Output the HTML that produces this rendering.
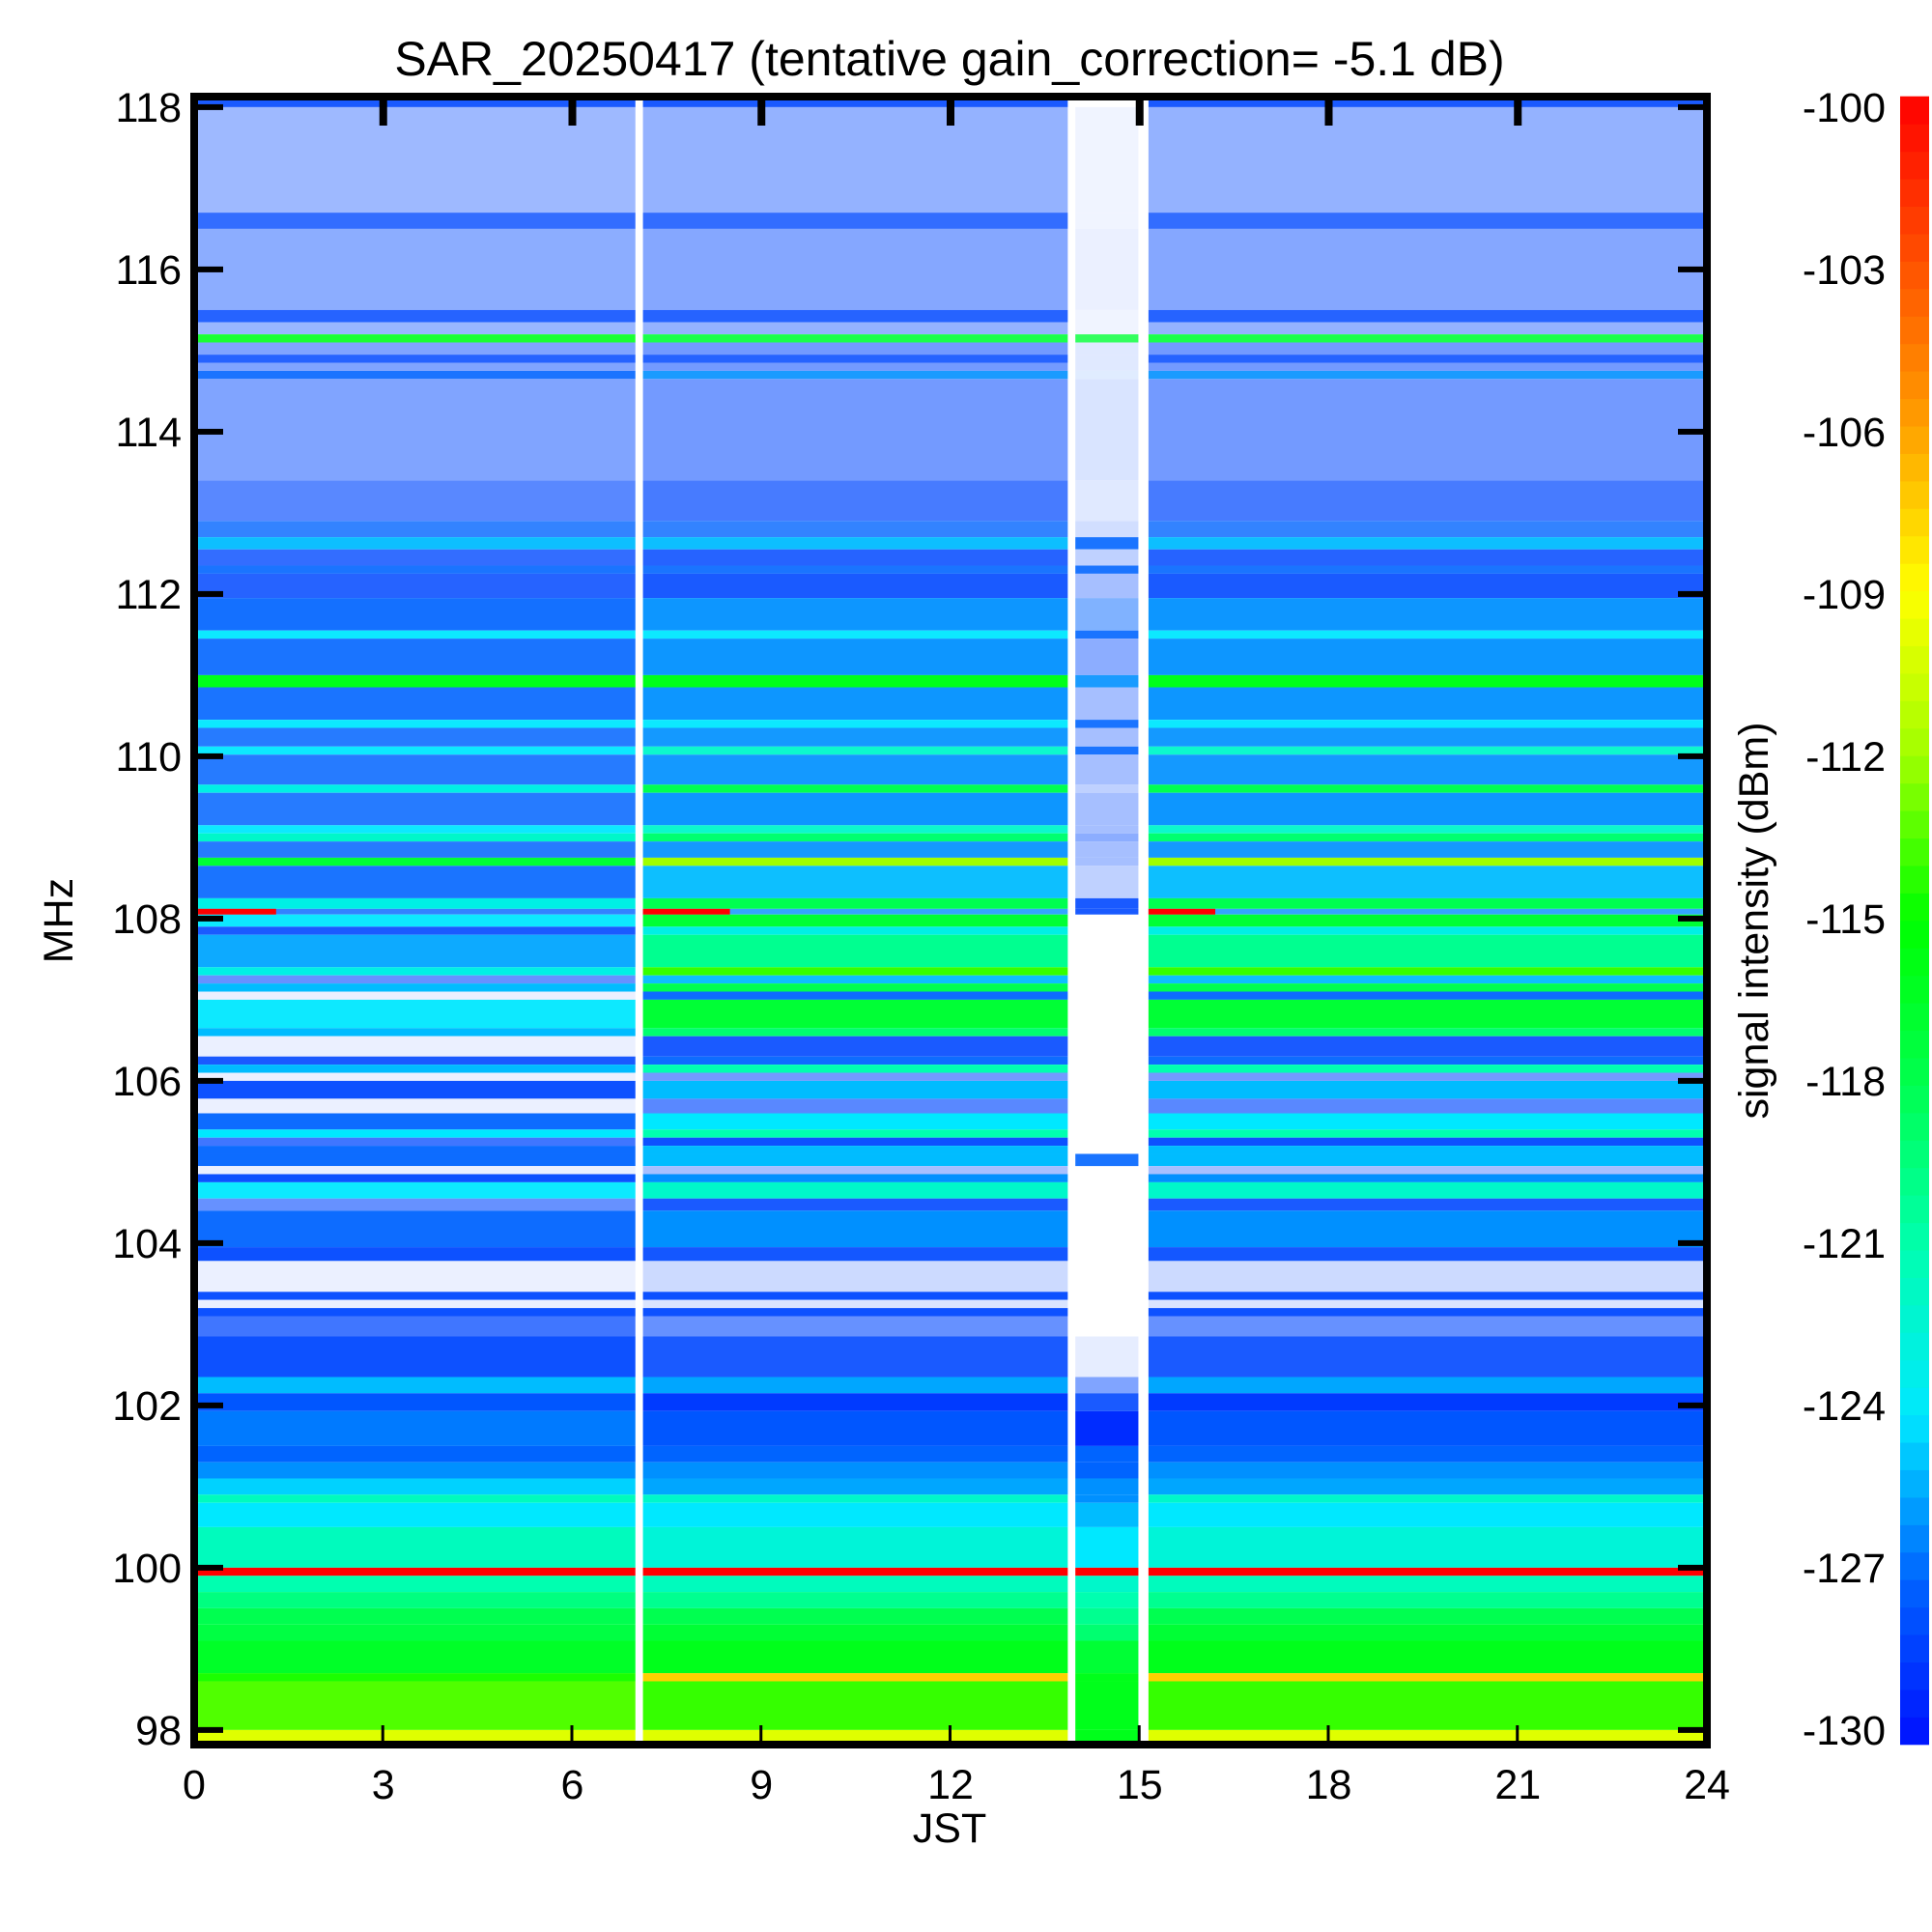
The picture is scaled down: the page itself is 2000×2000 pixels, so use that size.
<!DOCTYPE html>
<html><head><meta charset="utf-8"><style>
html,body{margin:0;padding:0;background:#fff;}
svg{display:block;}
text{font-family:"Liberation Sans",Arial,sans-serif;fill:#000;}
</style></head><body>
<svg id="chart" width="2000" height="2000" viewBox="0 0 2000 2000" xmlns="http://www.w3.org/2000/svg">
<rect x="0" y="0" width="2000" height="2000" fill="#fff"/>
<g id="cells"></g>
<g id="bursts"></g>
<g id="frame"></g>
<g id="cbar"></g>
<g id="labels"></g>
</svg>
<script>
// ---- data ----
const bandHi=[118.13,118.0,116.7,116.5,115.5,115.35,115.2,115.1,114.95,114.85,114.75,114.65,113.4,112.9,112.7,112.55,112.35,112.25,111.95,111.55,111.45,111.0,110.85,110.45,110.35,110.12,110.02,109.65,109.55,109.15,109.05,108.95,108.75,108.65,108.25,108.12,108.05,107.9,107.8,107.4,107.3,107.2,107.1,107.0,106.65,106.55,106.3,106.2,106.1,106.0,105.78,105.6,105.4,105.3,105.2,105.1,104.95,104.85,104.75,104.55,104.4,103.95,103.78,103.4,103.3,103.2,103.1,102.85,102.35,102.15,101.93,101.5,101.3,101.1,100.9,100.8,100.5,100.0,99.9,99.7,99.5,99.3,99.1,98.7,98.6,98.0];
const bandLo=[118.0,116.7,116.5,115.5,115.35,115.2,115.1,114.95,114.85,114.75,114.65,113.4,112.9,112.7,112.55,112.35,112.25,111.95,111.55,111.45,111.0,110.85,110.45,110.35,110.12,110.02,109.65,109.55,109.15,109.05,108.95,108.75,108.65,108.25,108.12,108.05,107.9,107.8,107.4,107.3,107.2,107.1,107.0,106.65,106.55,106.3,106.2,106.1,106.0,105.78,105.6,105.4,105.3,105.2,105.1,104.95,104.85,104.75,104.55,104.4,103.95,103.78,103.4,103.3,103.2,103.1,102.85,102.35,102.15,101.93,101.5,101.3,101.1,100.9,100.8,100.5,100.0,99.9,99.7,99.5,99.3,99.1,98.7,98.6,98.0,97.82];
const valA=[-128,-128,-128,-128,-128,-128,-116,-128,-128,-128,-127,-128,-128,-127,-125,-128,-127,-128,-127,-124,-127,-116,-127,-124,-127,-124,-127,-123,-127,-124,-122,-127,-117,-127,-123,-127,-124,-128,-125.5,-123,-128,-125,-128,-124,-125,-128,-128,-125,-128,-128,-128,-127,-124,-128,-127,-127,-128,-128,-124,-128,-127,-128,-128,-128,-128,-128,-128,-128,-125,-127.5,-126.5,-127,-126,-124.5,-121.5,-124,-121.5,-100,-121,-119.5,-118,-117.5,-116.5,-114.5,-113.5,-110];
const denA=[0.9,0.38,0.8,0.45,0.85,0.4,0.9,0.5,0.85,0.5,0.9,0.5,0.65,0.8,0.95,0.8,0.9,0.85,0.92,0.95,0.9,1,0.9,0.95,0.85,0.95,0.85,1,0.85,0.95,1,0.85,1,0.9,1,0.8,0.95,0.9,0.95,1,0.6,1,0.08,0.95,1,0.08,0.9,1,0.08,0.95,0.08,0.95,1,0.75,0.95,0.95,0.08,0.95,0.95,0.6,0.95,0.95,0.08,0.95,0.08,0.95,0.75,0.95,1,1,1,1,1,1,1,1,1,1,1,1,1,1,1,1,1,1];
const valB=[-128,-128,-128,-128,-128,-128,-117,-128,-128,-128,-126,-128,-128,-127,-125,-128,-127,-128,-126,-124,-126,-116,-126,-124,-126,-122,-126,-118,-126,-122,-119,-126,-112,-125,-118,-126,-117,-123,-120,-114,-125,-118,-127,-117,-119,-128,-127,-121,-128,-125,-128,-124,-121,-128,-125,-125,-128,-126,-122,-128,-126,-128,-128,-128,-128,-128,-128,-128,-125.5,-128.5,-127.5,-127,-126,-125.5,-122,-124,-122.5,-100,-121.5,-120,-118,-117,-116,-107.5,-114,-110];
const denB=[0.9,0.42,0.8,0.48,0.85,0.42,0.9,0.55,0.85,0.55,0.9,0.55,0.72,0.8,0.95,0.85,0.9,0.9,0.95,0.95,0.95,1,0.95,0.95,0.92,0.95,0.92,1,0.95,0.95,1,0.92,1,0.95,1,0.8,1,1,1,1,0.95,1,0.95,1,1,0.9,0.95,1,0.55,1,0.65,1,1,0.95,1,1,0.35,1,1,0.9,1,0.92,0.2,0.95,0.15,0.95,0.6,0.9,1,1,1,1,1,1,1,1,1,1,1,1,1,1,1,1,1,1];
const valC=[-128,-128,-128,-128,-128,-128,-117,-128,-128,-128,-127,-128,-128,-128,-127,-128,-127,-128,-127,-127,-128,-126,-128,-127,-128,-127,-128,-128,-128,-128,-128,-128,-128,-128,-128,-128,-128,-128,-128,-128,-128,-128,-128,-128,-128,-128,-128,-128,-128,-128,-128,-128,-128,-128,-128,-127,-128,-128,-128,-128,-128,-128,-128,-128,-128,-128,-128,-128,-128,-128,-129,-127,-127,-126,-126,-125,-124,-100,-122,-121,-120,-119,-117,-116,-116,-116];
const denC=[0,0.06,0.06,0.08,0.06,0.06,0.8,0.12,0.12,0.12,0.12,0.15,0.12,0.18,0.9,0.25,0.9,0.35,0.5,0.9,0.45,0.9,0.35,0.9,0.35,0.9,0.35,0.25,0.35,0.35,0.45,0.35,0.35,0.25,0.9,0.9,0,0,0,0,0,0,0,0,0,0,0,0,0,0,0,0,0,0,0,0.9,0,0,0,0,0,0,0,0,0,0,0,0.1,0.5,0.9,1,1,1,1,1,1,1,1,1,1,1,1,1,1,1,1];
const segStart=[0,7.12,13.98,15.14];
const segEnd=[7.0,13.86,14.98,24];
const segKind=['A','B','C','B'];
const burstStart=[0,7.12,15.14];
const burstEnd=[1.3,8.5,16.2];
const burstLo=[108.05,108.05,108.05];
const burstHi=[108.12,108.12,108.12];
const burstVal=[-100,-100,-100];
const xTicks=[0,3,6,9,12,15,18,21,24];
const yTicks=[98,100,102,104,106,108,110,112,114,116,118];
const cTicks=[-100,-103,-106,-109,-112,-115,-118,-121,-124,-127,-130];

// ---- scales ----
const X0=201,X1=1767,Y0=100,Y1=1806,FTOP=118.13,FBOT=97.82;
function xs(t){return X0+t*(X1-X0)/24;}
function ys(f){return Y0+(FTOP-f)*(Y1-Y0)/(FTOP-FBOT);}
const CB_Y0=100,CB_Y1=1806;
function cs(v){return CB_Y0+(-100-v)*(CB_Y1-CB_Y0)/30;}
const stopV=[-130,-127,-124,-121,-118,-115,-112,-109,-106,-103,-100];
const stopC=[[0,16,255],[0,100,255],[0,232,255],[0,255,176],[0,255,80],[0,255,0],[160,255,0],[255,255,0],[255,160,0],[255,80,0],[255,0,0]];
function cmapRGB(v){
  if(v<=stopV[0])return stopC[0];
  for(let i=1;i<stopV.length;i++){ if(v<=stopV[i]){const t=(v-stopV[i-1])/(stopV[i]-stopV[i-1]);const a=stopC[i-1],b=stopC[i];return [a[0]+(b[0]-a[0])*t,a[1]+(b[1]-a[1])*t,a[2]+(b[2]-a[2])*t];}}
  return stopC[stopC.length-1];
}
function color(v,d){const c=cmapRGB(v);const r=Math.round(255+(c[0]-255)*d),g=Math.round(255+(c[1]-255)*d),b=Math.round(255+(c[2]-255)*d);return `rgb(${r},${g},${b})`;}
const NS='http://www.w3.org/2000/svg';
function mk(tag,attrs,parent){const e=document.createElementNS(NS,tag);for(const k in attrs)e.setAttribute(k,attrs[k]);parent.appendChild(e);return e;}

// ---- heatmap cells ----
const gc=document.getElementById('cells');
for(let i=0;i<bandHi.length;i++){
  for(let s=0;s<segStart.length;s++){
    const k=segKind[s];
    const v=k==='A'?valA[i]:k==='B'?valB[i]:valC[i];
    const d=k==='A'?denA[i]:k==='B'?denB[i]:denC[i];
    if(d<=0)continue;
    const r=mk('rect',{x:xs(segStart[s]).toFixed(2),y:ys(bandHi[i]).toFixed(2),width:(xs(segEnd[s])-xs(segStart[s])).toFixed(2),height:(ys(bandLo[i])-ys(bandHi[i])).toFixed(2),fill:color(v,d)},gc);
    
    
  }
}
const gb=document.getElementById('bursts');
for(let i=0;i<burstStart.length;i++){
  const r=mk('rect',{x:xs(burstStart[i]),y:ys(burstHi[i]),width:xs(burstEnd[i])-xs(burstStart[i]),height:ys(burstLo[i])-ys(burstHi[i]),fill:color(burstVal[i],1)},gb);
  
  
}

// ---- frame and ticks ----
const gf=document.getElementById('frame');
const fr=mk('rect',{x:X0,y:Y0,width:X1-X0,height:Y1-Y0,fill:'none',stroke:'#000','stroke-width':8},gf);


const gl=document.getElementById('labels');
xTicks.forEach(t=>{
  const a=mk('rect',{x:xs(t)-4,y:Y0,width:8,height:30,fill:'#000'},gf);
  
  
  const b=mk('rect',{x:xs(t)-2,y:Y1-20,width:3,height:20,fill:'#000'},gf);
  
  
  const tx=mk('text',{x:xs(t),y:1862,'font-size':43,'text-anchor':'middle'},gl);
  tx.textContent=String(t);
  
  
});
yTicks.forEach(f=>{
  const a=mk('rect',{x:X0,y:ys(f)-3,width:30,height:6,fill:'#000'},gf);
  
  
  const b=mk('rect',{x:X1-30,y:ys(f)-3,width:30,height:6,fill:'#000'},gf);
  
  
  const tx=mk('text',{x:188,y:ys(f)+15,'font-size':43,'text-anchor':'end'},gl);
  tx.textContent=String(f);
  
  
});

// ---- colorbar ----
const gcb=document.getElementById('cbar');
for(let v=-130;v<-100;v+=0.5){
  const r=mk('rect',{x:1967,y:cs(v+0.5)-0.3,width:30,height:cs(v)-cs(v+0.5)+0.6,fill:color(v+0.25,1)},gcb);
  
  
}
cTicks.forEach(v=>{
  const yy=111+(-100-v)*(1791-111)/30;
  const tx=mk('text',{x:1952,y:yy+15,'font-size':43,'text-anchor':'end'},gl);
  tx.textContent=String(v);
  
  
});

// ---- titles ----
function label(txt,attrs,name){const t=mk('text',attrs,gl);t.textContent=txt;return t;}
label('SAR_20250417 (tentative gain_correction= -5.1 dB)',{x:983,y:78,'font-size':50,'text-anchor':'middle'},'chart-title');
label('JST',{x:983,y:1907,'font-size':43,'text-anchor':'middle'},'x-axis-title');
label('MHz',{x:0,y:0,'font-size':43,'text-anchor':'middle',transform:'translate(75,953) rotate(-90)'},'y-axis-title');
label('signal intensity (dBm)',{x:0,y:0,'font-size':43,'text-anchor':'middle',transform:'translate(1830,953) rotate(-90)'},'colorbar-title');
</script>
</body></html>
